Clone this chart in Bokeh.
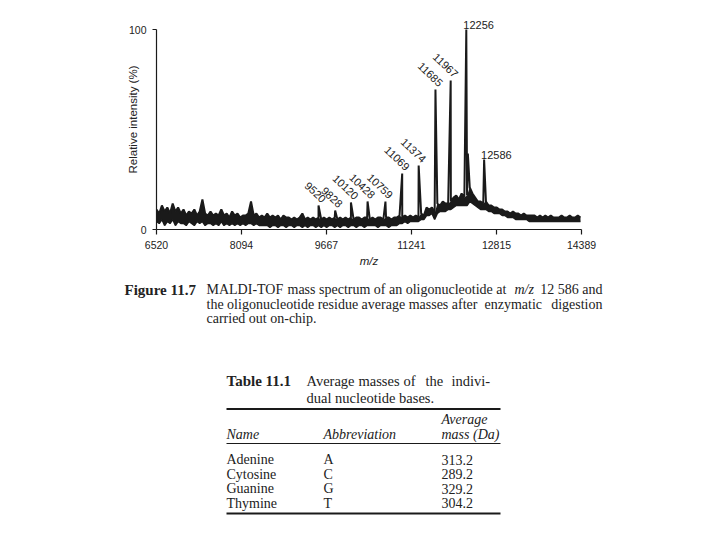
from bokeh.plotting import figure
from bokeh.models import Range1d, FixedTicker, ColumnDataSource
from bokeh.embed import file_html
from bokeh.resources import INLINE
from bokeh.core.properties import value

# ---------------- data ----------------
x_ticks = [6520, 8094, 9667, 11241, 12815, 14389]
y_ticks = [0, 100]

noise_start = 6520
noise_step = 50
# upper edge of the noisy baseline (%), one value every 50 m/z
noise_hi = [
    10, 8, 12, 9, 11, 8, 13, 9, 11, 8,
    10, 7, 9, 8, 10, 7, 9, 15, 8, 7,
    9, 7, 8, 7, 10, 7, 8, 6, 9, 7,
    8, 6, 7, 7, 8, 14, 7, 8, 6, 7,
    6, 8, 6, 7, 6, 7, 5, 7, 6, 6,
    5, 6, 5, 6, 8, 5, 6, 5, 6, 5,
    6, 5, 6, 5, 6, 5, 6, 5, 6, 5,
    6, 5, 6, 5, 6, 6, 5, 6, 6, 5,
    6, 5, 6, 6, 5, 6, 6, 5, 6, 6,
    7, 6, 7, 6, 7, 6, 7, 6, 8, 7,
    11, 10, 11, 8, 13, 12, 14, 13, 13, 14,
    16, 17, 15, 18, 16, 17, 21, 18, 16, 14,
    14, 13, 14, 12, 12, 11, 11, 10, 10, 9,
    9, 8, 9, 8, 8, 7, 8, 7, 7, 7,
    7, 6, 7, 6, 7, 6, 7, 6, 6, 6,
    7, 6, 6, 7, 6, 6, 7, 6,
]
# lower edge of the noisy baseline (%)
noise_lo = [
    4, 3, 5, 2, 4, 3, 5, 2, 4, 3,
    3, 2, 4, 3, 2, 4, 3, 4, 2, 3,
    3, 2, 3, 2, 4, 2, 3, 2, 3, 2,
    3, 2, 3, 2, 3, 3, 2, 3, 2, 2,
    2, 2, 1, 2, 2, 1, 2, 2, 1, 2,
    2, 1, 2, 2, 1, 2, 1, 2, 2, 1,
    2, 1, 2, 1, 2, 2, 1, 2, 1, 2,
    2, 1, 2, 2, 1, 2, 2, 1, 2, 2,
    2, 2, 1, 2, 2, 2, 1, 2, 2, 2,
    3, 3, 4, 3, 4, 4, 4, 4, 5, 5,
    7, 7, 8, 5, 8, 9, 9, 9, 10, 10,
    11, 12, 12, 12, 12, 12, 14, 13, 12, 11,
    10, 10, 10, 9, 9, 8, 8, 8, 7, 7,
    6, 6, 6, 5, 5, 5, 5, 5, 4, 4,
    4, 4, 4, 4, 4, 4, 4, 4, 4, 4,
    4, 4, 4, 4, 4, 4, 4, 4,
]

peak_mz = [9520, 9828, 10120, 10428, 10759, 11069, 11374, 11685, 11967, 12256, 12586]
peak_int = [12, 9.5, 13.5, 14, 14, 28, 32, 70, 74.5, 100, 35]
# tail on the right flank of the base peak
shoulder_mz = [12285]
shoulder_int = [38]
horizontal_labels = [12256, 12586]

caption_label = "Figure 11.7"
caption_line1 = ["MALDI-TOF", "mass spectrum of an oligonucleotide at", "m/z", "12 586 and"]
caption_line2 = ["the oligonucleotide residue average masses after", "enzymatic", "digestion"]
caption_line3 = "carried out on-chip."

table_title = "Table 11.1"
table_caption1 = ["Average", "masses", "of", "the", "indivi-"]
table_caption2 = "dual nucleotide bases."
table_headers = ["Name", "Abbreviation", "mass (Da)"]
table_header_top = "Average"
table_names = ["Adenine", "Cytosine", "Guanine", "Thymine"]
table_abbr = ["A", "C", "G", "T"]
table_mass = ["313.2", "289.2", "329.2", "304.2"]

# ---------------- spectrum ----------------
noise_mz = [noise_start + noise_step * i for i in range(len(noise_hi))]
pts = sorted(list(zip(noise_mz, noise_hi)) + list(zip(peak_mz, peak_int))
             + list(zip(shoulder_mz, shoulder_int)))
spec_x = [a for a, b in pts]
spec_y = [b for a, b in pts]

SANS = value("Liberation Sans")
SERIF = value("Liberation Serif")
INK = "#222222"
LINE = "#1a1a1a"

p = figure(frame_width=425, frame_height=220,
           min_border_left=156, min_border_right=123,
           min_border_top=9, min_border_bottom=49,
           x_range=Range1d(6520, 14389), y_range=Range1d(0, 110),
           output_backend="svg", toolbar_location=None)
p.outline_line_color = None
p.xgrid.visible = False
p.ygrid.visible = False

p.varea(x=noise_mz, y1=noise_lo, y2=noise_hi, fill_color=LINE)
p.line(noise_mz, noise_lo, line_color=LINE, line_width=1.5)
p.line(spec_x, spec_y, line_color=LINE, line_width=2.0)

rot = ColumnDataSource(dict(
    x=[m for m in peak_mz if m not in horizontal_labels],
    y=[h for m, h in zip(peak_mz, peak_int) if m not in horizontal_labels],
    t=[str(m) for m in peak_mz if m not in horizontal_labels]))
hor = ColumnDataSource(dict(
    x=[m for m in peak_mz if m in horizontal_labels],
    y=[h for m, h in zip(peak_mz, peak_int) if m in horizontal_labels],
    t=[str(m) for m in peak_mz if m in horizontal_labels]))
p.text(x="x", y="y", text="t", source=rot, angle=-0.76, text_align="right",
       text_baseline="bottom", x_offset=3, y_offset=-2, text_font=SANS,
       text_font_size="11px", text_color=INK)
p.text(x="x", y="y", text="t", source=hor, text_align="left",
       text_baseline="bottom", x_offset=-3, y_offset=-1, text_font=SANS,
       text_font_size="11px", text_color=INK)

p.xaxis.ticker = FixedTicker(ticks=x_ticks)
p.yaxis.ticker = FixedTicker(ticks=y_ticks)
p.xaxis.bounds = (6520, 14389)
p.yaxis.bounds = (0, 100)
for ax in (p.xaxis, p.yaxis):
    ax.minor_tick_line_color = None
    ax.major_tick_in = 0
    ax.axis_line_color = LINE
    ax.major_tick_line_color = LINE
    ax.axis_line_width = 1.2
    ax.major_tick_line_width = 1.2
    ax.major_label_text_font = "Liberation Sans"
    ax.major_label_text_font_size = "10.5px"
    ax.major_label_text_color = INK
    ax.axis_label_text_font = "Liberation Sans"
    ax.axis_label_text_font_size = "11.5px"
    ax.axis_label_text_color = INK
p.xaxis.major_tick_out = 5
p.yaxis.major_tick_out = 4
p.xaxis.major_label_standoff = 6
p.yaxis.major_label_standoff = 6
p.xaxis.axis_label = "m/z"
p.xaxis.axis_label_text_font_style = "italic"
p.xaxis.axis_label_standoff = 3
p.yaxis.axis_label = "Relative intensity (%)"
p.yaxis.axis_label_text_font_style = "normal"
p.yaxis.axis_label_standoff = -13

# ---------------- caption and table ----------------
TOP = 278
q = figure(width=704, height=254, x_range=Range1d(0, 704), y_range=Range1d(254, 0),
           x_axis_type=None, y_axis_type=None, min_border=0,
           output_backend="svg", toolbar_location=None)
q.outline_line_color = None


def txt(x, y, s, style="normal", align="left", size="14px"):
    q.text(x=[x], y=[y - TOP], text=[s], text_font=SERIF, text_font_size=size,
           text_font_style=style, text_align=align, text_baseline="middle",
           text_color=INK)


txt(124, 289, caption_label, style="bold", size="15px")
for xx, s, st, al in zip([206, 287, 514, 602], caption_line1,
                         ["normal", "normal", "italic", "normal"],
                         ["left", "left", "left", "right"]):
    txt(xx, 289, s, style=st, align=al)
for xx, s, al in zip([206, 484, 602], caption_line2, ["left", "left", "right"]):
    txt(xx, 304, s, align=al)
txt(206, 318, caption_line3)

txt(226, 380, table_title, style="bold", size="15px")
for xx, s in zip([306, 358, 403, 425, 451], table_caption1):
    txt(xx, 380, s, size="14.5px")
txt(306, 397, table_caption2, size="14.5px")

col_x = [226, 323, 441]
rule_y = [408.5, 443, 513]
q.segment(x0=[226] * 3, x1=[500] * 3, y0=[r - TOP for r in rule_y],
          y1=[r - TOP for r in rule_y], line_color=LINE, line_width=[2, 1, 2])
txt(col_x[2], 419, table_header_top, style="italic")
for cx, h in zip(col_x, table_headers):
    txt(cx, 434, h, style="italic")
for i, (n, a, m) in enumerate(zip(table_names, table_abbr, table_mass)):
    yy = 459 + i * 14.6
    txt(col_x[0], yy, n)
    txt(col_x[1], yy, a)
    txt(col_x[2], yy, m)

open("out.html", "w").write(file_html([p, q], INLINE))
